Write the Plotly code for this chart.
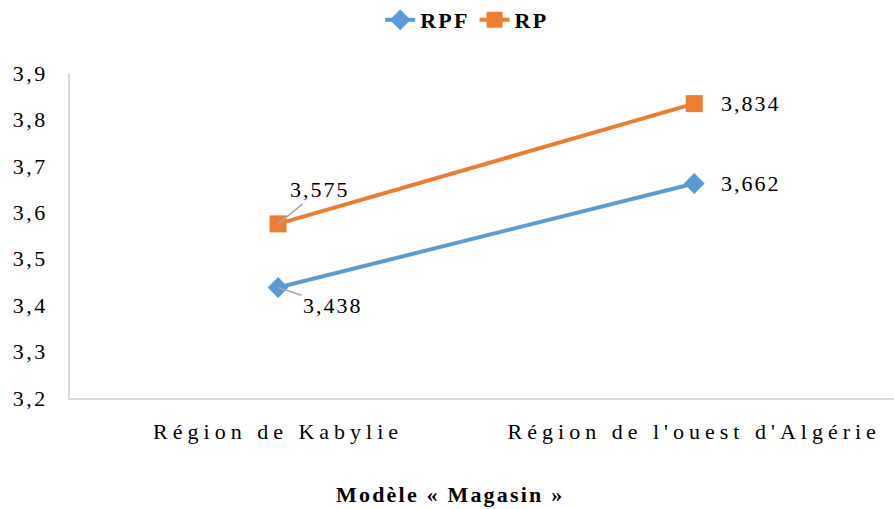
import plotly.graph_objects as go

categories = ["Région de Kabylie", "Région de l'ouest d'Algérie"]
rpf = [3.438, 3.662]
rp = [3.575, 3.834]
y_ticks = [3.2, 3.3, 3.4, 3.5, 3.6, 3.7, 3.8, 3.9]
x_title = "Modèle « Magasin »"

FONT = "Liberation Serif"
BLUE = "#5B9BD5"
ORANGE = "#ED7D31"

def fmt(v, d=3):
    return f"{v:.{d}f}".replace(".", ",")

def ls(text, px):
    return f'<span style="letter-spacing:{px}px">{text}</span>'

fig = go.Figure()
fig.add_trace(go.Scatter(
    x=categories, y=rpf, name=ls("<b>RPF</b>", 2.2), mode="lines+markers",
    line=dict(color=BLUE, width=4),
    marker=dict(symbol="diamond", size=16, color=BLUE),
))
fig.add_trace(go.Scatter(
    x=categories, y=rp, name=ls("<b>RP</b>", 2.2), mode="lines+markers",
    line=dict(color=ORANGE, width=4),
    marker=dict(symbol="square", size=17, color=ORANGE),
))

ann = []
ann.append(dict(x=categories[0], y=rpf[0], text=ls(fmt(rpf[0]), 2), showarrow=True,
                ax=55, ay=18, arrowcolor="#a6a6a6", arrowwidth=1.5, arrowhead=0,
                standoff=0))
ann.append(dict(x=categories[1], y=rpf[1], text=ls(fmt(rpf[1]), 2), showarrow=False,
                xanchor="left", xshift=25))
ann.append(dict(x=categories[0], y=rp[0], text=ls(fmt(rp[0]), 2), showarrow=True,
                ax=42, ay=-34, arrowcolor="#a6a6a6", arrowwidth=1.5, arrowhead=0,
                standoff=0))
ann.append(dict(x=categories[1], y=rp[1], text=ls(fmt(rp[1]), 2), showarrow=False,
                xanchor="left", xshift=25))
for a in ann:
    a["font"] = dict(family=FONT, size=22, color="#000")
    a["xref"] = "x"
    a["yref"] = "y"

ann.append(dict(text=ls("<b>" + x_title + "</b>", 2.2), xref="paper", yref="paper",
                x=0.461, y=-0.298, xanchor="center", yanchor="middle", showarrow=False,
                font=dict(family=FONT, size=22, color="#000")))

fig.update_layout(
    width=894, height=509,
    margin=dict(l=70, r=0, t=73, b=111, autoexpand=False),
    paper_bgcolor="white", plot_bgcolor="white",
    font=dict(family=FONT, size=22, color="#000"),
    showlegend=True,
    legend=dict(orientation="h", x=0.482, xanchor="center", y=1.163, yanchor="middle",
                font=dict(family=FONT, size=22, color="#000"),
                itemwidth=30, tracegroupgap=0, bgcolor="rgba(0,0,0,0)"),
    annotations=ann,
)
fig.update_xaxes(
    type="category", range=[-0.5, 1.48],
    showline=True, linecolor="#d9d9d9", linewidth=1.5,
    showgrid=False, zeroline=False, ticks="",
    tickvals=categories,
    ticktext=[ls(c, 5) for c in categories],
    ticklabelstandoff=13,
    tickfont=dict(family=FONT, size=22, color="#000"),
)
fig.update_yaxes(
    range=[3.2, 3.9], tickvals=y_ticks,
    ticktext=[ls(fmt(v, 1), 2.5) for v in y_ticks],
    showline=True, linecolor="#d9d9d9", linewidth=1.5,
    showgrid=False, zeroline=False, ticks="",
    ticklabelstandoff=16,
    tickfont=dict(family=FONT, size=22, color="#000"),
)

fig.write_html("out.html", config={"displayModeBar": False},
               post_script="document.body.style.margin='0';document.body.style.overflow='hidden';")
